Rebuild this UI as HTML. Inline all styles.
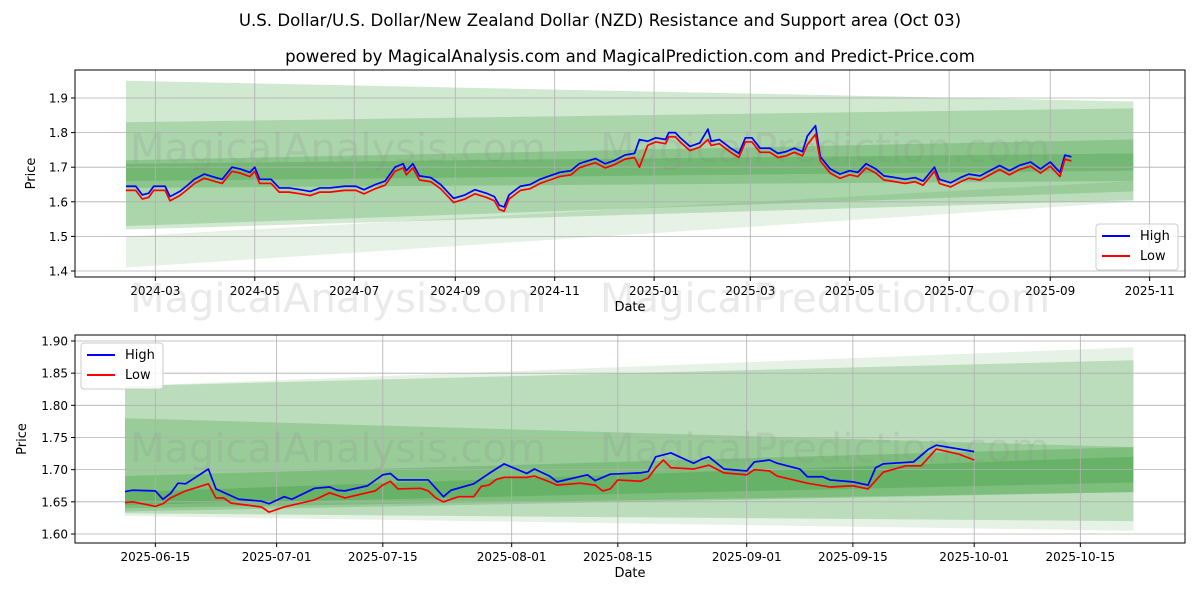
<!DOCTYPE html>
<html><head><meta charset="utf-8"><style>
html,body{margin:0;padding:0;background:#fff;}
svg{display:block;font-family:"DejaVu Sans","Liberation Sans",sans-serif;}
</style></head><body>
<svg id="chart" width="1200" height="600" viewBox="0 0 1200 600" xmlns="http://www.w3.org/2000/svg">
<rect width="1200" height="600" fill="#fff"/>
<text x="600" y="26" text-anchor="middle" font-size="16.6">U.S. Dollar/U.S. Dollar/New Zealand Dollar (NZD) Resistance and Support area (Oct 03)</text>
<text x="630" y="62" text-anchor="middle" font-size="16.6">powered by MagicalAnalysis.com and MagicalPrediction.com and Predict-Price.com</text>
<g id="top"></g>
<g id="bot"></g>
</svg>
<script>
// ---- top chart data (days since 2024-02-12) ----
const topDays=[0,6,10,14,17,24,27,33,37,42,48,55,59,65,70,76,79,82,89,94,100,107,113,119,125,134,141,146,153,159,165,170,172,176,180,187,193,197,201,208,214,221,226,229,232,235,242,248,254,260,266,273,278,281,288,294,300,306,312,315,320,325,331,333,337,340,346,352,357,359,364,371,376,380,384,389,395,400,405,410,415,418,423,426,432,438,444,449,454,460,465,472,478,484,489,496,499,506,512,517,524,530,536,542,548,555,561,567,573,576,580];
const topHigh=[1.645,1.645,1.62,1.625,1.645,1.645,1.615,1.63,1.645,1.665,1.68,1.67,1.665,1.70,1.695,1.685,1.70,1.665,1.665,1.64,1.64,1.635,1.63,1.64,1.64,1.645,1.645,1.635,1.65,1.66,1.70,1.71,1.69,1.71,1.675,1.67,1.65,1.63,1.61,1.62,1.635,1.625,1.615,1.59,1.585,1.62,1.645,1.65,1.665,1.675,1.685,1.69,1.71,1.715,1.725,1.71,1.72,1.735,1.74,1.78,1.775,1.785,1.78,1.80,1.80,1.785,1.76,1.77,1.81,1.775,1.78,1.755,1.74,1.785,1.785,1.755,1.755,1.74,1.745,1.755,1.745,1.79,1.82,1.73,1.695,1.68,1.69,1.685,1.71,1.695,1.675,1.67,1.665,1.67,1.66,1.70,1.665,1.655,1.67,1.68,1.675,1.69,1.705,1.69,1.705,1.715,1.695,1.715,1.685,1.735,1.73];
const topLow=[1.633,1.633,1.608,1.613,1.633,1.633,1.603,1.618,1.633,1.653,1.668,1.658,1.653,1.688,1.683,1.673,1.688,1.653,1.653,1.628,1.628,1.623,1.618,1.628,1.628,1.633,1.633,1.623,1.638,1.648,1.688,1.698,1.678,1.698,1.663,1.658,1.638,1.618,1.598,1.608,1.623,1.613,1.603,1.578,1.573,1.608,1.633,1.638,1.653,1.663,1.673,1.678,1.698,1.703,1.713,1.698,1.708,1.723,1.728,1.700,1.763,1.773,1.768,1.788,1.788,1.773,1.748,1.758,1.780,1.763,1.768,1.743,1.728,1.773,1.773,1.743,1.743,1.728,1.733,1.743,1.733,1.765,1.795,1.718,1.683,1.668,1.678,1.673,1.698,1.683,1.663,1.658,1.653,1.658,1.648,1.688,1.653,1.643,1.658,1.668,1.663,1.678,1.693,1.678,1.693,1.703,1.683,1.703,1.673,1.723,1.718];
const topTickDays=[18,79,140,202,263,324,383,444,505,567,628];
const topTickLabels=["2024-03","2024-05","2024-07","2024-09","2024-11","2025-01","2025-03","2025-05","2025-07","2025-09","2025-11"];
const topYTicks=[1.4,1.5,1.6,1.7,1.8,1.9];
const topBandDays=[0,618];
const topBands=[[1.41,1.50,1.60,1.66],[1.52,1.95,1.605,1.89],[1.53,1.83,1.63,1.87],[1.64,1.72,1.66,1.78],[1.66,1.71,1.69,1.74]];
// ---- bottom chart data (days since 2025-06-11) ----
const botHighDays=[0,1,4,5,6,7,8,11,12,15,18,19,21,22,25,27,28,29,32,34,35,36,40,42,43,46,48,50,53,54,56,57,61,62,64,68,69,70,72,75,76,77,79,82,83,85,86,89,90,92,93,96,98,99,100,104,106,107,112];
const botHigh=[1.666,1.668,1.667,1.654,1.663,1.679,1.678,1.701,1.670,1.654,1.651,1.647,1.658,1.654,1.671,1.673,1.668,1.667,1.675,1.692,1.694,1.684,1.684,1.658,1.668,1.678,1.694,1.709,1.694,1.701,1.690,1.681,1.692,1.683,1.693,1.695,1.697,1.720,1.726,1.710,1.716,1.720,1.701,1.698,1.712,1.715,1.710,1.701,1.689,1.689,1.684,1.681,1.676,1.703,1.709,1.712,1.732,1.738,1.728];
const botLowDays=[0,1,4,5,6,8,11,12,13,14,18,19,21,25,27,29,33,34,35,36,39,40,41,42,44,46,47,48,49,50,53,54,56,57,60,62,63,64,65,68,69,70,71,72,75,77,79,82,83,85,86,90,93,96,98,100,103,105,107,110,112];
const botLow=[1.649,1.650,1.643,1.647,1.656,1.667,1.678,1.656,1.656,1.648,1.642,1.634,1.642,1.653,1.664,1.656,1.667,1.676,1.682,1.670,1.671,1.667,1.656,1.650,1.658,1.658,1.674,1.676,1.685,1.688,1.688,1.690,1.681,1.676,1.679,1.676,1.667,1.670,1.684,1.682,1.687,1.703,1.715,1.703,1.701,1.707,1.695,1.692,1.700,1.698,1.690,1.679,1.673,1.675,1.670,1.696,1.706,1.706,1.732,1.724,1.715];
const botTickDays=[4,20,34,51,65,82,96,112,126];
const botTickLabels=["2025-06-15","2025-07-01","2025-07-15","2025-08-01","2025-08-15","2025-09-01","2025-09-15","2025-10-01","2025-10-15"];
const botYTicks=[1.60,1.65,1.70,1.75,1.80,1.85,1.90];
const botBandDays=[0,133];
const botBands=[[1.628,1.83,1.605,1.89],[1.632,1.83,1.62,1.87],[1.635,1.78,1.665,1.735],[1.64,1.69,1.665,1.735],[1.645,1.665,1.68,1.72]];

const NS="http://www.w3.org/2000/svg";
function mk(parent,tag,attrs){const e=document.createElementNS(NS,tag);for(const k in attrs)e.setAttribute(k,attrs[k]);parent.appendChild(e);return e;}

function panel(g,cfg){
  const {L,R,T,B,x,y}=cfg;
  cfg.bands.forEach((b,i)=>{
    const x0=x(cfg.bandDays[0]),x1=x(cfg.bandDays[1]);
    const p=mk(g,'polygon',{points:`${x0},${y(b[1])} ${x1},${y(b[3])} ${x1},${y(b[2])} ${x0},${y(b[0])}`,fill:'rgb(0,128,0)','fill-opacity':i==0?0.1:0.18});
    
    
  });
  cfg.yTicks.forEach(v=>{
    const l=mk(g,'line',{x1:L,x2:R,y1:y(v),y2:y(v),stroke:'#b0b0b0','stroke-width':0.8});
    
    
    mk(g,'line',{x1:L-4,x2:L,y1:y(v),y2:y(v),stroke:'#000'});
    const t=mk(g,'text',{x:L-7,y:y(v)+4.5,'text-anchor':'end','font-size':12});
    t.textContent=v.toFixed(cfg.yDec);
    
    
  });
  cfg.xTicks.forEach((d,i)=>{
    const l=mk(g,'line',{x1:x(d),x2:x(d),y1:T,y2:B,stroke:'#b0b0b0','stroke-width':0.8});
    
    
    mk(g,'line',{x1:x(d),x2:x(d),y1:B,y2:B+4,stroke:'#000'});
    const t=mk(g,'text',{x:x(d),y:B+18,'text-anchor':'middle','font-size':12});
    t.textContent=cfg.xLabels[i];
    
    
  });
  cfg.marks.forEach(m=>{
    const t=mk(g,'text',{x:m[0],y:m[1],'font-size':40,fill:'#888','fill-opacity':0.18});
    t.textContent=m[2];
    
    
  });
  const line=(days,vals,col,name)=>{
    const p=mk(g,'polyline',{points:days.map((d,i)=>x(d)+','+y(vals[i])).join(' '),fill:'none',stroke:col,'stroke-width':1.7,'stroke-linejoin':'round'});
    
    
  };
  line(cfg.hiDays,cfg.hi,'#0000ff','high-line');
  line(cfg.loDays,cfg.lo,'#ff0000','low-line');
  const f=mk(g,'rect',{x:L,y:T,width:R-L,height:B-T,fill:'none',stroke:'#000','stroke-width':1});
  
  
  const xt=mk(g,'text',{x:(L+R)/2,y:B+34,'text-anchor':'middle','font-size':13});
  xt.textContent='Date';
  
  
  const yt=mk(g,'text',{x:0,y:0,'text-anchor':'middle','font-size':13,transform:`translate(${cfg.ytx},${(T+B)/2}) rotate(-90)`});
  yt.textContent='Price';
  
  
  const [lx,ly]=cfg.legend;
  const lg=mk(g,'g',{});
  
  
  mk(lg,'rect',{x:lx,y:ly,width:82,height:46,rx:3,fill:'#fff','fill-opacity':0.85,stroke:'#ccc'});
  [['High','#0000ff'],['Low','#ff0000']].forEach((e,i)=>{
    const eg=mk(lg,'g',{});
    
    
    mk(eg,'line',{x1:lx+6,x2:lx+34,y1:ly+12+i*20,y2:ly+12+i*20,stroke:e[1],'stroke-width':2});
    const t=mk(eg,'text',{x:lx+44,y:ly+16+i*20,'font-size':13});
    t.textContent=e[0];
  });
}

panel(document.getElementById('top'),{L:75,R:1185,T:70,B:277,
  x:d=>126+d*1.63, y:v=>98+(1.9-v)*346,
  bands:topBands,bandDays:topBandDays,yTicks:topYTicks,yDec:1,xTicks:topTickDays,xLabels:topTickLabels,
  hiDays:topDays,hi:topHigh,loDays:topDays,lo:topLow,ytx:35,legend:[1096,224],
  marks:[[130,162,'MagicalAnalysis.com'],[600,162,'MagicalPrediction.com'],[130,312,'MagicalAnalysis.com'],[600,312,'MagicalPrediction.com']]});
panel(document.getElementById('bot'),{L:75,R:1185,T:335,B:543,
  x:d=>125+d*7.582, y:v=>341+(1.9-v)*643.3,
  bands:botBands,bandDays:botBandDays,yTicks:botYTicks,yDec:2,xTicks:botTickDays,xLabels:botTickLabels,
  hiDays:botHighDays,hi:botHigh,loDays:botLowDays,lo:botLow,ytx:26,legend:[81,343],
  marks:[[130,462,'MagicalAnalysis.com'],[600,462,'MagicalPrediction.com']]});
</script>
</body></html>
